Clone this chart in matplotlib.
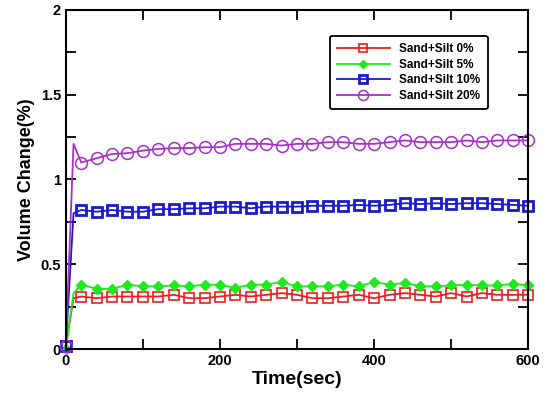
import numpy as np
import matplotlib.pyplot as plt
from matplotlib.ticker import MultipleLocator

plt.rc('font', family='Liberation Sans', weight='bold')

# Time points (s); markers every 20 s, extra point at 10 s for the initial jump
t = [0, 10] + list(range(20, 601, 20))

sand_0 = [0.02, 0.30, 0.31, 0.30, 0.31, 0.31, 0.31, 0.31, 0.32, 0.30, 0.30, 0.31,
          0.32, 0.31, 0.32, 0.33, 0.32, 0.30, 0.30, 0.31, 0.32, 0.30, 0.32, 0.33,
          0.32, 0.31, 0.33, 0.31, 0.33, 0.32, 0.32, 0.32]
sand_5 = [0.00, 0.33, 0.38, 0.355, 0.355, 0.38, 0.37, 0.37, 0.375, 0.37, 0.38, 0.38,
          0.36, 0.38, 0.38, 0.395, 0.37, 0.37, 0.37, 0.38, 0.37, 0.395, 0.38, 0.39,
          0.37, 0.37, 0.375, 0.38, 0.375, 0.375, 0.385, 0.375]
sand_10 = [0.02, 0.80, 0.82, 0.81, 0.82, 0.81, 0.81, 0.825, 0.825, 0.83, 0.83, 0.84,
           0.84, 0.83, 0.84, 0.84, 0.84, 0.845, 0.845, 0.845, 0.85, 0.845, 0.85, 0.86,
           0.855, 0.86, 0.855, 0.86, 0.86, 0.855, 0.85, 0.845]
sand_20 = [0.02, 1.21, 1.10, 1.125, 1.15, 1.155, 1.17, 1.18, 1.185, 1.185, 1.19, 1.19,
           1.21, 1.21, 1.21, 1.20, 1.21, 1.21, 1.22, 1.22, 1.21, 1.21, 1.22, 1.23,
           1.22, 1.22, 1.22, 1.23, 1.22, 1.23, 1.23, 1.23]

labels = ['Sand+Silt 0%', 'Sand+Silt 5%', 'Sand+Silt 10%', 'Sand+Silt 20%']
colors = ['#ee1c1c', '#1ee81e', '#1a1ad0', '#a830c8']
yticks = [0, 0.5, 1, 1.5, 2]
ytick_labels = ['0', '0.5', '1', '1.5', '2']

fig = plt.figure(figsize=(5.44, 3.94), dpi=100)
ax = fig.add_axes([0.121, 0.114, 0.850, 0.861])

mark = [0] + list(range(2, len(t)))
ax.plot(t, sand_0, color=colors[0], marker='s', mfc='none', ms=7.5, mew=1.2,
        lw=1.3, markevery=mark, label=labels[0], clip_on=False)
ax.plot(t, sand_5, color=colors[1], marker='D', ms=5, mew=1.0,
        lw=1.3, markevery=mark, label=labels[1], clip_on=False)
ax.plot(t, sand_10, color=colors[2], marker='s', mfc='none', ms=7.5, mew=2.0,
        lw=1.3, markevery=mark, label=labels[2], clip_on=False)
ax.plot(t, sand_20, color=colors[3], marker='o', mfc='none', ms=8.5, mew=1.1,
        lw=1.3, markevery=mark, label=labels[3], clip_on=False)

ax.set_xlim(0, 600)
ax.set_ylim(0, 2)
ax.xaxis.set_major_locator(MultipleLocator(200))
ax.xaxis.set_minor_locator(MultipleLocator(100))
ax.set_yticks(yticks, ytick_labels)
ax.yaxis.set_minor_locator(MultipleLocator(0.25))
ax.tick_params(which='both', direction='in', top=True, right=True, width=1.3)
ax.tick_params(which='major', length=7, labelsize=10.5)
ax.tick_params(which='minor', length=7)
for s in ax.spines.values():
    s.set_linewidth(1.5)

ax.set_xlabel('Time(sec)', fontsize=14, fontweight='bold', labelpad=2)
ax.set_ylabel('Volume Change(%)', fontsize=13, fontweight='bold')

leg = ax.legend(loc='upper right', bbox_to_anchor=(0.925, 0.94), fontsize=8.5,
                frameon=True, fancybox=True, handlelength=4.5, borderpad=0.6,
                labelspacing=0.3, markerscale=0.85)
leg.get_frame().set_edgecolor('black')
leg.get_frame().set_linewidth(1.3)
leg.get_frame().set_alpha(1)

plt.savefig('out.png', dpi=100)
